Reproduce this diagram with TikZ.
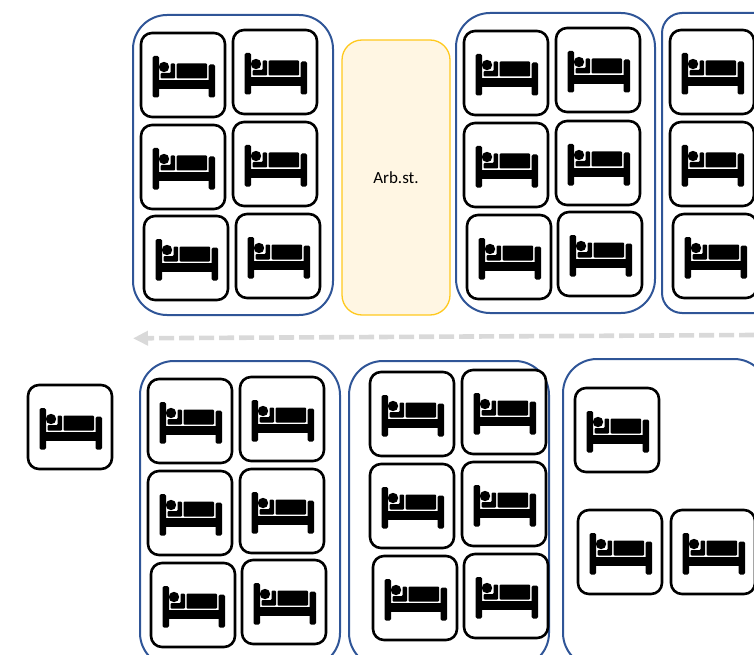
\documentclass[tikz,border=0pt]{standalone}
\usepackage{fontspec}
\setmainfont{Carlito}
\usetikzlibrary{arrows.meta}
\definecolor{groupblue}{HTML}{2F5597}
\definecolor{arbfill}{HTML}{FFF6E3}
\definecolor{arbline}{HTML}{FFC91E}
\definecolor{flowgrey}{HTML}{D9D9D9}
\tikzset{
  x=1pt,y=-1pt,
  card/.style={draw=black,fill=white,line width=2.6pt,rounded corners=11pt,minimum width=84pt,minimum height=84pt,inner sep=0pt,outer sep=0pt,anchor=north west},
  group/.style={draw=groupblue,line width=2pt,rounded corners=34pt,outer sep=0pt,inner sep=0pt,anchor=north west},
  narrowgroup/.style={group,rounded corners=20pt},
  bedink/.style={fill=black,draw=none},
  pics/bed/.style={code={
    \fill[bedink,rounded corners=1.5pt] (11.5,23) rectangle (18,64.5);
    \fill[bedink,rounded corners=1.5pt] (67.5,31.5) rectangle (74,64.5);
    \fill[bedink] (11.5,47) rectangle (74,56);
    \fill[bedink] (23,34) circle (5.2);
    \fill[bedink,rounded corners=1pt] (35.5,30.5) rectangle (66,45.5);
    \fill[bedink,rounded corners=1pt] (19.5,45.5) -- (34,45.5) -- (34,30.5) -- (29.5,30.5) -- (29.5,40) -- (19.5,40) -- cycle;
  }}
}
\newcommand{\bedcard}[3]{\node[card] (#1) at (#2,#3) {}; \pic at (#2,#3) {bed};}
\begin{document}
\begin{tikzpicture}
\useasboundingbox (0,0) rectangle (754,655);
\clip (0,0) rectangle (754,655);
\node[group,minimum width=200pt,minimum height=300pt] (g1) at (133,15) {};
\node[group,minimum width=199pt,minimum height=300pt] (g2) at (456,13) {};
\node[narrowgroup,minimum width=130pt,minimum height=300pt] (g3) at (662,13) {};
\node[group,minimum width=200pt,minimum height=306pt] (g4) at (140,361) {};
\node[group,minimum width=200pt,minimum height=306pt] (g5) at (349,361) {};
\node[group,minimum width=205pt,minimum height=308pt] (g6) at (563,359) {};
\node[draw=arbline,fill=arbfill,line width=1.3pt,rounded corners=20pt,minimum width=108pt,minimum height=275pt,anchor=north west,inner sep=0pt,outer sep=0pt,font=\fontsize{17pt}{20pt}\selectfont] (arb) at (342,40) {Arb.st.};
\coordinate (flowstart) at (754,335);
\coordinate (flowend) at (133,338.3);
\draw[flowgrey,line width=4.6pt,dash pattern=on 15pt off 5pt,-{Triangle[length=15pt,width=14pt]}] (flowstart) -- (flowend);
\bedcard{a1}{141}{33}\bedcard{a2}{233}{30}\bedcard{a3}{141}{125}\bedcard{a4}{233}{122}\bedcard{a5}{144}{216}\bedcard{a6}{236}{214}
\bedcard{b1}{464}{31}\bedcard{b2}{556}{28}\bedcard{b3}{464}{123}\bedcard{b4}{556}{121}\bedcard{b5}{467}{215}\bedcard{b6}{558}{212}
\bedcard{c1}{670}{30}\bedcard{c2}{670}{122}\bedcard{c3}{673}{214}
\bedcard{s}{28}{385}
\bedcard{d1}{148}{379}\bedcard{d2}{240}{377}\bedcard{d3}{148}{471}\bedcard{d4}{240}{469}\bedcard{d5}{151}{563}\bedcard{d6}{242}{560}
\bedcard{e1}{370}{372}\bedcard{e2}{462}{370}\bedcard{e3}{370}{464}\bedcard{e4}{462}{462}\bedcard{e5}{373}{556}\bedcard{e6}{464}{554}
\bedcard{f1}{575}{388}\bedcard{f2}{578}{510}\bedcard{f3}{671}{510}
\end{tikzpicture}
\end{document}
